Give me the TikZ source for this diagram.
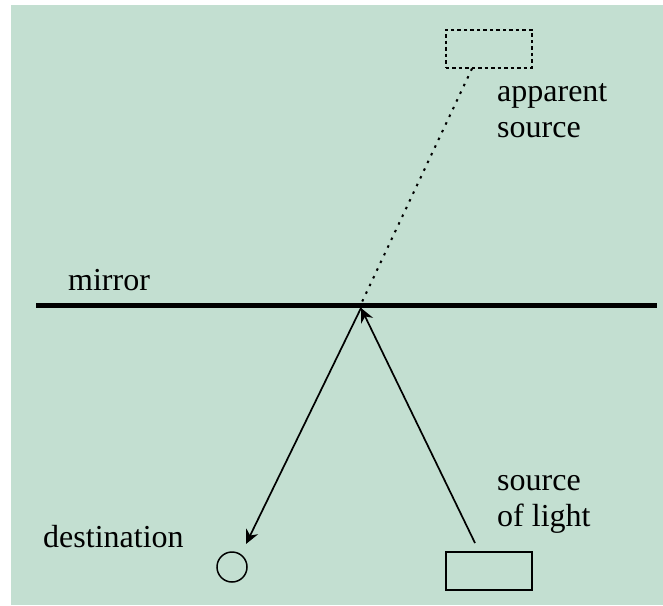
\documentclass[tikz,border=0pt]{standalone}
\usepackage{fontspec}
\setmainfont{Liberation Serif}
\usetikzlibrary{arrows.meta}
\definecolor{panelgreen}{RGB}{195,223,209}
\tikzset{
  label text/.style={font=\fontsize{32}{36}\selectfont, inner sep=0pt, align=left},
  ray/.style={line width=1.7pt, -{Stealth[length=14pt, width=13pt]}},
  boxshape/.style={draw, line width=1.8pt, minimum width=86pt, minimum height=38pt, inner sep=0pt}
}
\begin{document}
\begin{tikzpicture}[x=1pt, y=-1pt]

  % --- 1. 背景 ---
  \fill[white] (0,0) rectangle (663,605);
  \fill[panelgreen] (11,5) rectangle (663,605);
  \useasboundingbox (0,0) rectangle (663,605);

  % --- 2. 鏡 ---
  \draw[line width=5pt] (36,305) -- (657,305);
  \node[label text, anchor=base west] (mirrorlabel) at (68,290) {mirror};
  \coordinate (hit) at (361,308);
  \coordinate (hittop) at (362,302);

  % --- 3. 光源と像 ---
  \node[boxshape] (src) at (489,571) {};
  \node[boxshape, line width=2pt, dash pattern=on 3.5pt off 3pt] (image) at (488.5,48.5) {};
  \node[draw, circle, line width=1.5pt, minimum size=30pt, inner sep=0pt] (dest) at (232,567) {};
  \coordinate (srcout) at (475,543);
  \coordinate (destin) at (246,544);

  % --- 4. 光線 ---
  \draw[ray] (srcout) -- (hit);
  \draw[ray] (hit) -- (destin);
  \draw[line width=2pt, dash pattern=on 2.5pt off 6pt] (image.south west -| 472,0) -- (hittop);

  % --- 5. ラベル ---
  \node[label text, anchor=north west] (imagelabel) at (497,83.5) {apparent\\source};
  \node[label text, anchor=north west] (srclabel) at (497,475) {source\\of light};
  \node[label text, anchor=base west] (destlabel) at (43,547) {destination};

\end{tikzpicture}
\end{document}
